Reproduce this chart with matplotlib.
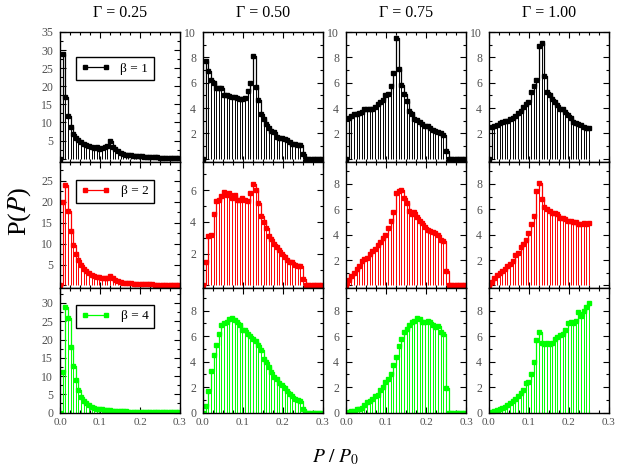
import numpy as np
import matplotlib
matplotlib.use("Agg")
import matplotlib.pyplot as plt
from matplotlib.ticker import MultipleLocator

plt.rcParams['font.family'] = ['Liberation Serif', 'DejaVu Serif']
plt.rcParams['mathtext.fontset'] = 'stix'

# histogram bins: P/P0 spacing
dx = 0.25 / 38
gammas = ['0.25', '0.50', '0.75', '1.00']
betas = [1, 2, 4]
colors = ['black', '#ff0000', '#00ff00']

# beta = 1
b1_g025 = [0, 29, 17, 11.7, 8.8, 6.8, 5.8, 5.2, 4.6, 4.1, 3.7, 3.4, 3.2, 3.0, 3.2, 2.7,
           2.9, 3.1, 3.4, 4.8, 3.2, 2.6, 2.0, 1.6, 1.3, 1.1, 1.0, 0.9, 0.8, 0.75, 0.7,
           0.6, 0.55, 0.5, 0.5, 0.45, 0.4, 0.35, 0.3, 0.3, 0.25, 0.25, 0.2, 0.2, 0.2, 0.2]
b1_g050 = [0, 7.7, 6.9, 6.25, 5.95, 5.6, 5.6, 5.6, 5.0, 5.05, 4.95, 4.9, 4.85, 4.8, 4.75,
           4.75, 4.8, 5.35, 5.95, 8.1, 5.65, 4.65, 3.55, 3.15, 2.75, 2.45, 2.15, 2.1, 1.75,
           1.65, 1.65, 1.55, 1.5, 1.35, 1.15, 1.15, 1.1, 1.1, 0.35, 0, 0, 0, 0, 0, 0, 0]
b1_g075 = [0, 3.25, 3.4, 3.5, 3.5, 3.6, 3.65, 3.9, 3.9, 3.9, 3.9, 4.1, 4.3, 4.5, 4.65,
           5.0, 5.1, 5.7, 6.8, 9.5, 7.1, 5.8, 5.1, 4.55, 3.75, 3.5, 3.15, 3.05, 2.9, 2.75,
           2.6, 2.55, 2.45, 2.3, 2.2, 2.1, 2.0, 1.9, 0.6, 0, 0, 0, 0, 0, 0, 0]
b1_g100 = [0, 2.5, 2.6, 2.7, 2.8, 2.9, 2.95, 3.0, 3.1, 3.25, 3.4, 3.6, 3.75, 4.1, 4.3,
           4.5, 5.25, 5.7, 6.2, 8.9, 9.1, 6.55, 5.3, 5.0, 4.7, 4.45, 4.2, 3.95, 3.9, 3.7,
           3.45, 3.2, 2.9, 2.85, 2.75, 2.7, 2.5, 2.4, 2.4]

# beta = 2
b2_g025 = [0, 20, 24, 17.8, 12.9, 9.6, 7.4, 6.0, 4.9, 4.0, 3.4, 2.9, 2.6, 2.3, 2.1, 2.0,
           1.9, 1.8, 1.8, 2.2, 1.7, 1.3, 1.0, 0.8, 0.7, 0.6, 0.55, 0.5, 0.45, 0.4, 0.4,
           0.4, 0.35, 0.3, 0.3, 0.25, 0.2, 0.2, 0.2, 0.15, 0.15, 0.1, 0.1, 0.1, 0.1, 0.1]
b2_g050 = [0, 1.5, 3.1, 3.2, 4.5, 5.3, 5.4, 5.6, 5.9, 5.7, 5.8, 5.5, 5.7, 5.4, 5.4, 5.5,
           5.4, 5.3, 5.8, 6.4, 6.0, 5.2, 4.4, 4.0, 3.6, 3.1, 2.9, 2.6, 2.4, 2.2, 2.0, 1.8,
           1.6, 1.5, 1.5, 1.3, 1.2, 1.2, 0.4, 0, 0, 0, 0, 0, 0, 0]
b2_g075 = [0, 0.4, 0.75, 1.0, 1.3, 1.5, 1.9, 2.05, 2.2, 2.5, 2.7, 2.9, 3.2, 3.4, 3.7, 4.0,
           4.5, 5.1, 5.8, 7.3, 7.4, 7.5, 6.9, 6.5, 5.9, 5.6, 5.8, 5.4, 5.1, 4.9, 4.6, 4.4,
           4.3, 4.2, 4.1, 4.0, 3.6, 3.5, 1.15, 0, 0, 0, 0, 0, 0, 0]
b2_g100 = [0, 0.3, 0.55, 0.8, 1.0, 1.1, 1.3, 1.5, 1.7, 1.95, 2.4, 2.55, 3.0, 3.3, 3.6, 4.1,
           4.8, 5.5, 7.4, 8.1, 6.8, 6.2, 6.0, 5.9, 5.7, 5.7, 5.6, 5.3, 5.3, 5.2, 5.1, 5.1,
           5.0, 5.0, 4.8, 4.8, 4.9, 4.8, 4.9]

# beta = 4
b4_g025 = [0, 11.2, 29, 26, 17.9, 12.8, 8.9, 6.3, 4.4, 3.3, 2.6, 2.0, 1.6, 1.3, 1.1, 1.0,
           0.9, 0.8, 0.7, 0.6, 0.55, 0.5, 0.45, 0.4, 0.4, 0.35, 0.3, 0.3, 0.25, 0.25, 0.2,
           0.2, 0.2, 0.2, 0.15, 0.15, 0.15, 0.1, 0.1, 0.1, 0.1, 0.1, 0.1, 0.1, 0.1, 0.1]
b4_g050 = [0, 0.55, 1.7, 3.25, 4.5, 5.3, 6.2, 6.9, 7.05, 7.1, 7.35, 7.4, 7.3, 7.1, 6.9,
           6.5, 6.45, 6.2, 6.0, 5.8, 5.6, 5.3, 4.9, 4.2, 4.0, 3.6, 3.2, 2.8, 2.6, 2.35, 2.2,
           1.95, 1.7, 1.5, 1.3, 1.1, 1.0, 0.9, 0.3, 0, 0, 0, 0, 0, 0, 0]
b4_g075 = [0, 0.05, 0.1, 0.15, 0.25, 0.3, 0.4, 0.6, 0.8, 0.9, 1.1, 1.3, 1.4, 1.8, 2.0, 2.4,
           2.6, 3.0, 3.7, 4.4, 5.2, 5.8, 6.3, 6.6, 6.9, 7.1, 7.2, 7.4, 7.35, 7.1, 7.1, 7.2,
           7.15, 6.9, 6.7, 6.8, 6.3, 6.2, 1.9, 0, 0, 0, 0, 0, 0, 0]
b4_g100 = [0, 0.05, 0.1, 0.2, 0.3, 0.4, 0.45, 0.6, 0.75, 0.9, 1.1, 1.3, 1.55, 1.8, 2.3,
           2.4, 3.0, 4.0, 5.7, 6.3, 5.5, 5.4, 5.5, 5.4, 5.5, 5.8, 5.9, 6.1, 6.2, 6.5, 7.0,
           7.1, 7.0, 7.2, 7.9, 7.6, 8.0, 8.25, 8.6]

data = [[b1_g025, b1_g050, b1_g075, b1_g100],
        [b2_g025, b2_g050, b2_g075, b2_g100],
        [b4_g025, b4_g050, b4_g075, b4_g100]]

# axis ranges and tick steps per panel
ylims = [[(-0.8, 35), (-0.22, 10), (-0.22, 10), (-0.22, 10)],
         [(-0.6, 29.6), (-0.16, 7.8), (-0.2, 9.76), (-0.2, 9.76)],
         [(-0.1, 34.1), (-0.03, 9.78), (-0.03, 9.78), (-0.03, 9.78)]]
ysteps = [5, 2, 2, 2]

fig = plt.figure(figsize=(6.2, 4.74), dpi=100)
W, H = 620, 474
lefts = [60, 203, 346, 489]
rows = [(32, 161.5), (161.5, 288), (288, 413)]
leg_top = [0.806, 0.856, 0.866]

for r in range(3):
    for c in range(4):
        top, bot = rows[r]
        ax = fig.add_axes([lefts[c] / W, (H - bot) / H, 120 / W, (bot - top) / H])
        y = np.array(data[r][c])
        x = np.arange(len(y)) * dx
        col = colors[r]
        ax.vlines(x, 0, y, colors=col, linewidth=0.7)
        line, = ax.plot(x, y, drawstyle='steps-post', color=col, lw=0.9,
                        marker='s', ms=2.8, mec=col, mfc=col)
        ax.set_xlim(0, 0.3)
        lo, hi = ylims[r][c]
        ax.set_ylim(lo, hi)
        step = ysteps[c]
        ticks = np.arange(0, hi + 1e-6, step)
        first = 0 if r == 2 else step
        ax.set_yticks(ticks)
        ax.set_yticklabels([f"{t:g}" if t >= first else '' for t in ticks])
        ax.yaxis.set_minor_locator(MultipleLocator(step / 2))
        ax.set_xticks([0, 0.1, 0.2, 0.3])
        ax.xaxis.set_minor_locator(MultipleLocator(0.025))
        if r == 2:
            ax.set_xticklabels(['0.0', '0.1', '0.2', '0.3'])
        else:
            ax.set_xticklabels([])
        ax.tick_params(which='both', direction='in', top=True, right=True,
                       labelsize=8.5, labelcolor='#505050')
        ax.tick_params(axis='y', pad=5)
        ax.tick_params(axis='x', labelsize=8, pad=3.5)
        ax.tick_params(which='major', length=4.5, width=0.8)
        ax.tick_params(which='minor', length=2.5, width=0.8)
        for s in ax.spines.values():
            s.set_linewidth(1.0)
        if c == 0:
            leg = ax.legend([line], [f"β = {betas[r]}"], loc='upper right',
                            bbox_to_anchor=(0.78, leg_top[r]), numpoints=2,
                            handlelength=2.2, fontsize=9.5, fancybox=False,
                            edgecolor='black', framealpha=1, borderaxespad=0)
            leg.get_frame().set_linewidth(1.0)

for c in range(4):
    fig.text((lefts[c] + 60) / W, 0.972, f"Γ = {gammas[c]}", ha='center',
             va='center', fontsize=11.5)

fig.text(20 / W, 0.555, r'P($P$)', rotation=90, ha='center', va='center', fontsize=19)
fig.text(336 / W, 0.036, r'$P\ /\ P_0$', ha='center', va='center', fontsize=14)

fig.savefig('out.png', dpi=100)
